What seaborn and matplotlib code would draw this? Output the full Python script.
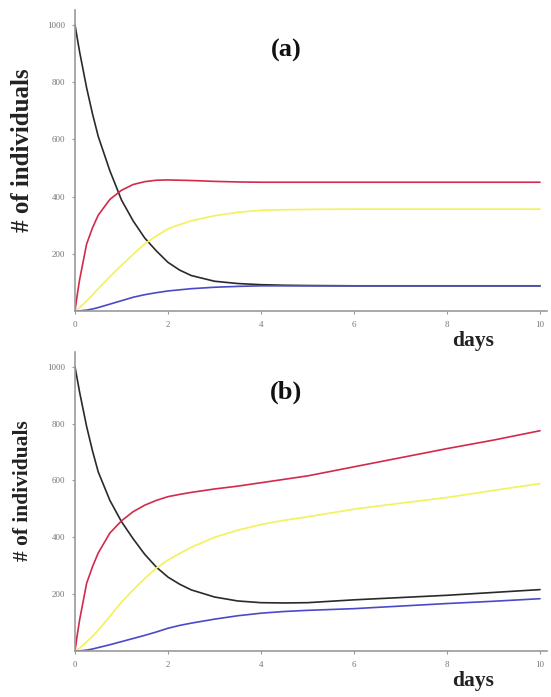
import numpy as np
import pandas as pd
import seaborn as sn
import matplotlib
matplotlib.use('Agg')
import matplotlib.pyplot as plt

sn.set_style('ticks')
plt.rcParams['font.family'] = ['Liberation Serif', 'DejaVu Serif']

# --- values ---
days = [0, 0.05, 0.1, 0.25, 0.375, 0.5, 0.75, 1, 1.25, 1.5, 1.75, 2, 2.25, 2.5, 3, 3.5, 4, 4.5, 5, 6, 7, 8, 9, 10]

black_a  = [1000, 952, 905, 780, 690, 610, 490, 388, 315, 255, 210, 170, 143, 124, 104, 96, 92, 90, 89, 88, 88, 88, 88, 88]
red_a    = [0, 58, 110, 234, 290, 335, 390, 422, 442, 452, 457, 458, 457, 456, 453, 451, 450, 450, 450, 450, 450, 450, 450, 450]
yellow_a = [0, 5, 12, 35, 56, 78, 120, 160, 198, 235, 262, 287, 302, 315, 333, 345, 352, 354, 355, 356, 356, 356, 356, 356]
blue_a   = [0, 0.1, 0.5, 3, 7, 12, 24, 36, 48, 57, 64, 70, 74, 78, 83, 86, 88, 88, 88, 88, 88, 88, 88, 88]

black_b  = [1000, 955, 910, 790, 705, 630, 530, 455, 395, 340, 295, 260, 235, 215, 190, 176, 170, 169, 170, 180, 188, 196, 206, 216]
red_b    = [0, 58, 110, 238, 296, 345, 415, 458, 490, 513, 530, 543, 551, 558, 570, 580, 592, 604, 616, 648, 680, 712, 742, 775]
yellow_b = [0, 4, 10, 32, 52, 73, 122, 172, 215, 255, 292, 320, 343, 365, 400, 425, 445, 460, 472, 499, 520, 540, 565, 589]
blue_b   = [0, 0.1, 0.5, 3, 7, 12, 22, 33, 44, 55, 67, 80, 90, 98, 112, 124, 133, 139, 143, 149, 158, 167, 175, 184]

series = ['black', 'red', 'yellow', 'blue']
colors = {'black': '#2a2a2a', 'red': '#d42a4a', 'yellow': '#f2f25a', 'blue': '#4a4ac8'}
panels = {
    'a': [black_a, red_a, yellow_a, blue_a],
    'b': [black_b, red_b, yellow_b, blue_b],
}
yticks = [200, 400, 600, 800, 1000]
xticks = [0, 2, 4, 6, 8, 10]


def long_frame(vals):
    rows = []
    for name, v in zip(series, vals):
        rows.append(pd.DataFrame({'days': days, 'n': v, 'pop': name}))
    return pd.concat(rows, ignore_index=True)


fig = plt.figure(figsize=(5.51, 6.97), dpi=100)
axes = {
    'a': fig.add_axes([0.1361, 0.5538, 0.8566, 0.4319]),
    'b': fig.add_axes([0.1361, 0.0660, 0.8566, 0.4290]),
}
ylabel_size = {'a': 18, 'b': 15.5}
ylabel_x = {'a': -0.087, 'b': -0.089}

for key, ax in axes.items():
    df = long_frame(panels[key])
    sn.lineplot(data=df, x='days', y='n', hue='pop', palette=colors,
                ax=ax, legend=False, linewidth=1.2, estimator=None, sort=False)
    ax.set_xlim(0, 10.15)
    ax.set_ylim(0, 1052)
    ax.set_xticks(xticks)
    ax.set_yticks(yticks)
    ax.tick_params(axis='both', labelsize=6.5, labelcolor='#777777',
                   color='#999999', length=2, width=0.8, pad=5)
    sn.despine(ax=ax)
    for s in ['left', 'bottom']:
        ax.spines[s].set_color('#9a9a9a')
        ax.spines[s].set_linewidth(1.2)
    ax.set_xlabel('')
    ax.set_ylabel('# of individuals', fontsize=ylabel_size[key],
                  fontweight='bold', color='#222222')
    ax.yaxis.set_label_coords(ylabel_x[key], 0.535)
    ax.text(0.843, -0.10, 'days', transform=ax.transAxes, ha='center', va='center',
            fontsize=15.5, fontweight='bold', color='#222222')
    ax.text(0.448, 0.865, '(%s)' % key, transform=ax.transAxes, ha='center', va='center',
            fontsize=19, fontweight='bold', color='#111111')

plt.savefig('out.png', dpi=100)
plt.close()
